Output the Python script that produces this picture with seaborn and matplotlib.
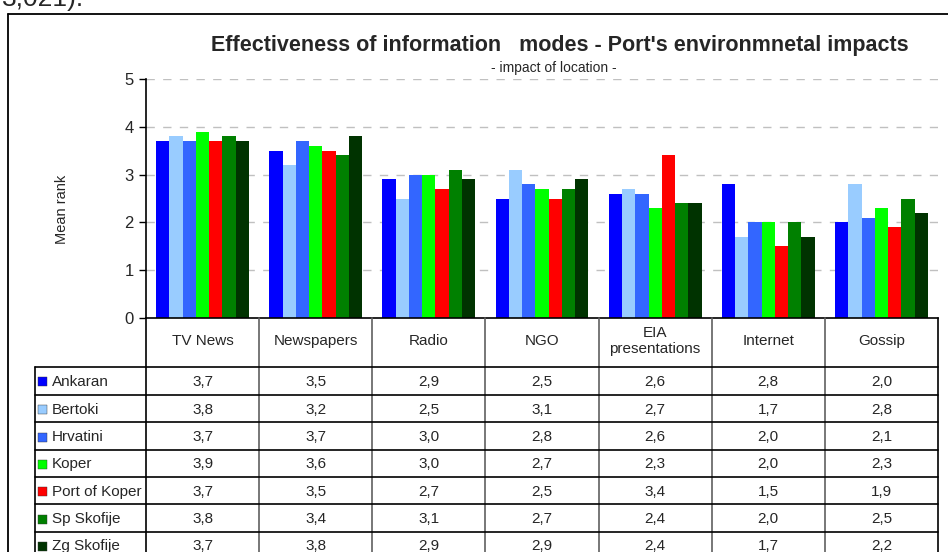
import matplotlib
matplotlib.use("Agg")
import matplotlib.pyplot as plt
import matplotlib.transforms as mtransforms
from matplotlib.lines import Line2D
from matplotlib.patches import Rectangle
import seaborn as sns
import pandas as pd

# Information modes (table columns / bar groups)
modes = ["TV News", "Newspapers", "Radio", "NGO", "EIA\npresentations", "Internet", "Gossip"]

# Locations (series)
locations = ["Ankaran", "Bertoki", "Hrvatini", "Koper", "Port of Koper", "Sp Skofije", "Zg Skofije"]
colors = ["#0000FF", "#99CCFF", "#3366FF", "#00FF00", "#FF0000", "#008000", "#003300"]

# Mean rank per location, one value per mode
ankaran = [3.7, 3.5, 2.9, 2.5, 2.6, 2.8, 2.0]
bertoki = [3.8, 3.2, 2.5, 3.1, 2.7, 1.7, 2.8]
hrvatini = [3.7, 3.7, 3.0, 2.8, 2.6, 2.0, 2.1]
koper = [3.9, 3.6, 3.0, 2.7, 2.3, 2.0, 2.3]
port_of_koper = [3.7, 3.5, 2.7, 2.5, 3.4, 1.5, 1.9]
sp_skofije = [3.8, 3.4, 3.1, 2.7, 2.4, 2.0, 2.5]
zg_skofije = [3.7, 3.8, 2.9, 2.9, 2.4, 1.7, 2.2]

series = [ankaran, bertoki, hrvatini, koper, port_of_koper, sp_skofije, zg_skofije]

yticks = [0, 1, 2, 3, 4, 5]

rows = []
for loc, vals in zip(locations, series):
    for m, v in zip(modes, vals):
        rows.append({"mode": m, "location": loc, "value": v})
df = pd.DataFrame(rows)

sns.set_style("white")
plt.rcParams["font.family"] = ["Liberation Sans", "DejaVu Sans"]

W, H = 948, 552
fig = plt.figure(figsize=(W / 100, H / 100), dpi=100)


def fx(px):
    return px / W


def fy(py):
    return 1 - py / H


ax_left, ax_right, ax_top, ax_bottom = 146, 938, 79, 318
ax = fig.add_axes([fx(ax_left), fy(ax_bottom), fx(ax_right - ax_left), (ax_bottom - ax_top) / H])

sns.barplot(data=df, x="mode", y="value", hue="location", order=modes,
            hue_order=locations, palette=colors, saturation=1, width=0.82,
            gap=0, errorbar=None, legend=False, linewidth=0, ax=ax)

ax.set_xlim(-0.5, len(modes) - 0.5)
ax.set_ylim(0, 5)
ax.set_yticks(yticks)
ax.set_yticklabels([str(t) for t in yticks], fontsize=12)
ax.set_xticks([])
ax.set_xlabel("")
ax.set_ylabel("Mean rank", fontsize=10.5)
ax.yaxis.set_label_coords((69 - ax_left) / (ax_right - ax_left), (ax_bottom - 209) / (ax_bottom - ax_top))
ax.tick_params(axis="y", direction="out", length=5, width=1, color="black", pad=4, left=True)
for s in ["top", "right"]:
    ax.spines[s].set_visible(False)
for s in ["left", "bottom"]:
    ax.spines[s].set_color("black")
    ax.spines[s].set_linewidth(1.2)
for t in yticks[1:]:
    ax.axhline(t, color="#c0c0c0", linewidth=1, linestyle=(0, (6, 6)), zorder=0)

# Data table below the axis, columns aligned with the bar groups
blend = mtransforms.blended_transform_factory(ax.transData, fig.transFigure)
row_lines = [318, 366.5, 395, 422.3, 449.7, 477, 504.3, 531.7, 559]
x_lab = fx(35)

# vertical separators (group boundaries)
for i in range(len(modes) + 1):
    xb = i - 0.5
    col = "black" if i in (0, len(modes)) else "#606060"
    fig.add_artist(Line2D([xb, xb], [fy(318), fy(560)], transform=blend,
                          color=col, linewidth=1.2))
# left edge of row-label column
fig.add_artist(Line2D([x_lab, x_lab], [fy(row_lines[1]), fy(560)],
                      transform=fig.transFigure, color="black", linewidth=1.2))
# horizontal lines
x_end_fig = (ax.transData.transform((len(modes) - 0.5, 0))[0]) / W
for yl in row_lines[1:-1]:
    fig.add_artist(Line2D([x_lab, x_end_fig], [fy(yl), fy(yl)],
                          transform=fig.transFigure, color="black", linewidth=1.2))

# header texts
for i, m in enumerate(modes):
    fig.text(i, fy(341), m, transform=blend, ha="center", va="center",
             fontsize=11, linespacing=1.2)

# rows with legend keys and values
for r, (loc, col, vals) in enumerate(zip(locations, colors, series)):
    yc = (row_lines[r + 1] + row_lines[r + 2]) / 2 + 1
    fig.add_artist(Rectangle((fx(38), fy(yc + 4.5)), fx(9), 9 / H,
                             transform=fig.transFigure, facecolor=col,
                             edgecolor="#333333", linewidth=0.3))
    fig.text(fx(52), fy(yc), loc, ha="left", va="center", fontsize=11)
    for i, v in enumerate(vals):
        fig.text(i, fy(yc), f"{v:.1f}".replace(".", ","), transform=blend,
                 ha="center", va="center", fontsize=11)

# titles
fig.text(fx(560), fy(45), "Effectiveness of information   modes - Port's environmnetal impacts",
         ha="center", va="center", fontsize=15.5, fontweight="bold")
fig.text(fx(554), fy(68), "- impact of location -", ha="center", va="center", fontsize=10)

# chart border (left and top)
fig.add_artist(Line2D([fx(8), fx(8)], [fy(14), fy(560)], transform=fig.transFigure,
                      color="black", linewidth=1.3))
fig.add_artist(Line2D([fx(8), fx(950)], [fy(14), fy(14)], transform=fig.transFigure,
                      color="black", linewidth=1.3))

# running text of the page above the chart
fig.text(fx(2), fy(6), "3,021).", ha="left", va="baseline", fontsize=19)

fig.savefig("out.png", dpi=100)
